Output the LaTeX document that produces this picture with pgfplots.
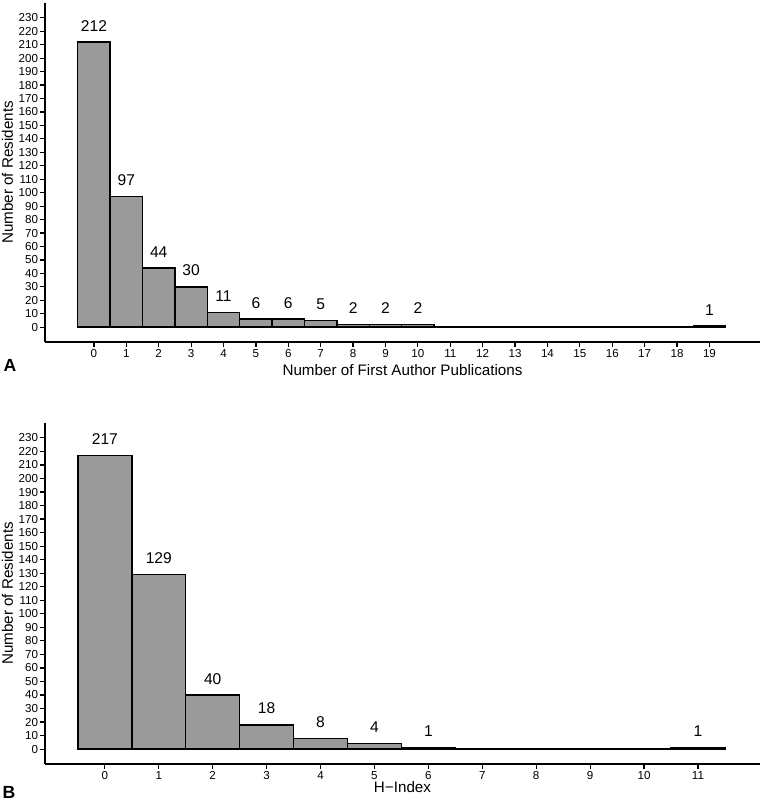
\documentclass[border=0pt]{standalone}
\usepackage{fontspec}
\setmainfont{Liberation Sans}
\usepackage{pgfplots}
\pgfplotsset{compat=1.18}
\definecolor{barfill}{HTML}{9A9A9A}
\begin{document}
\begin{tikzpicture}[x=1pt,y=1pt]
\useasboundingbox (0,0) rectangle (380,400);
\pgfplotsset{
  hist/.style={
    scale only axis,
    width=357.5pt,
    axis x line*=bottom, axis y line*=left,
    axis line style={line width=0.75pt, black},
    tick align=outside, major tick length=2.5pt,
    tick style={line width=0.6pt, black},
    ymin=-11, ymax=241,
    ytick={0,10,...,230},
    /pgf/number format/assume math mode=true,
    tick label style={font=\fontsize{5.8}{6.5}\selectfont},
    yticklabel style={inner sep=0.8pt},
    xticklabel style={inner sep=1pt},
    label style={font=\fontsize{7.6}{9}\selectfont},
    ylabel={Number of Residents},
    ylabel style={at={(axis description cs:-0.0524,0.5)}, anchor=center},
    clip=false,
  },
  barst/.style={ybar interval, fill=barfill, draw=black, line width=0.75pt},
  labst/.style={draw=none, mark=none, nodes near coords, point meta=y,
    nodes near coords style={font=\fontsize{7.8}{9}\selectfont, anchor=south, inner sep=0pt, yshift=5.2pt}},
}
% Panel A
\begin{axis}[hist, at={(22.5pt,229pt)}, anchor=south west,
  height=169.5pt, xmin=-1.51, xmax=20.56,
  xtick={0,1,...,19},
  xlabel={Number of First Author Publications},
  xlabel style={at={(axis description cs:0.5,0)}, anchor=center, yshift=-14pt}]
\addplot[barst] coordinates {(-0.5,212)(0.5,97)(1.5,44)(2.5,30)(3.5,11)(4.5,6)(5.5,6)(6.5,5)(7.5,2)(8.5,2)(9.5,2)(10.5,0)(11.5,0)(12.5,0)(13.5,0)(14.5,0)(15.5,0)(16.5,0)(17.5,0)(18.5,1)(19.5,1)};
\addplot[labst] coordinates {(0,212)(1,97)(2,44)(3,30)(4,11)(5,6)(6,6)(7,5)(8,2)(9,2)(10,2)(19,1)};
\end{axis}
\node[font=\bfseries\fontsize{8.8}{10}\selectfont] at (5,217.5) {A};
% Panel B
\begin{axis}[hist, at={(22.5pt,18pt)}, anchor=south west,
  height=170.5pt, xmin=-1.11, xmax=12.15,
  xtick={0,1,...,11},
  xlabel={H−Index},
  xlabel style={at={(axis description cs:0.5,0)}, anchor=center, inner sep=0pt, yshift=-11.5pt}]
\addplot[barst] coordinates {(-0.5,217)(0.5,129)(1.5,40)(2.5,18)(3.5,8)(4.5,4)(5.5,1)(6.5,0)(7.5,0)(8.5,0)(9.5,0)(10.5,1)(11.5,1)};
\addplot[labst] coordinates {(0,217)(1,129)(2,40)(3,18)(4,8)(5,4)(6,1)(11,1)};
\end{axis}
\node[font=\bfseries\fontsize{8.8}{10}\selectfont] at (4.5,4) {B};
\end{tikzpicture}
\end{document}
